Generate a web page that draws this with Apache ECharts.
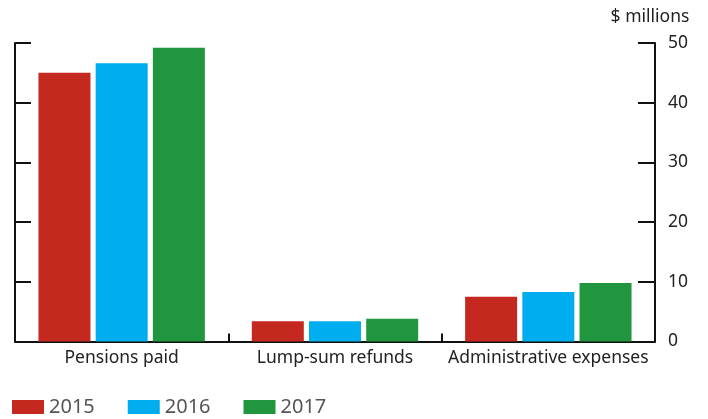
<!DOCTYPE html>
<html>
<head>
<meta charset="utf-8">
<script src="https://cdn.jsdelivr.net/npm/echarts@6/dist/echarts.min.js"></script>
<style>
  html, body { margin: 0; padding: 0; background: #fff; }
  #chart { width: 708px; height: 419px; }
</style>
</head>
<body>
<div id="chart"></div>
<script>
// Pension fund outflows by type, $ millions
const categories = ['Pensions paid', 'Lump-sum refunds', 'Administrative expenses'];
const years = ['2015', '2016', '2017'];
const values2015 = [45.0, 3.4, 7.5];
const values2016 = [46.6, 3.4, 8.3];
const values2017 = [49.2, 3.8, 9.8];
const yTicks = [0, 10, 20, 30, 40, 50];
const colors = ['#c4281f', '#00adee', '#21963e'];

const FONT = '"Noto Sans", "Open Sans", sans-serif';
const axisLine = { show: true, lineStyle: { color: '#111', width: 2 } };

const chart = echarts.init(document.getElementById('chart'), null, { renderer: 'canvas' });

const seriesData = [values2015, values2016, values2017];

chart.setOption({
  animation: false,
  color: colors,
  grid: { left: 15, right: 53, top: 43, bottom: 77.5, containLabel: false },
  legend: {
    left: 7,
    bottom: -3,
    itemWidth: 32,
    itemHeight: 14,
    itemGap: 33,
    icon: 'rect',
    textStyle: { fontFamily: FONT, fontSize: 20, color: '#555' },
    data: years
  },
  xAxis: {
    type: 'category',
    data: categories,
    axisLine: axisLine,
    axisTick: { show: true, inside: true, length: 8, lineStyle: { color: '#111', width: 2 } },
    axisLabel: { interval: 0, fontFamily: FONT, fontSize: 17.5, color: '#222', margin: 8 },
    splitLine: { show: false }
  },
  yAxis: [
    {
      type: 'value',
      position: 'left',
      min: yTicks[0],
      max: yTicks[yTicks.length - 1],
      interval: 10,
      axisLine: axisLine,
      axisTick: { show: true, inside: true, length: 16, lineStyle: { color: '#111', width: 2 } },
      axisLabel: { show: false },
      splitLine: { show: false }
    },
    {
      type: 'value',
      position: 'right',
      min: yTicks[0],
      max: yTicks[yTicks.length - 1],
      interval: 10,
      name: '$ millions',
      nameLocation: 'end',
      nameGap: 17,
      nameTextStyle: { fontFamily: FONT, fontSize: 17.5, color: '#222', align: 'center', padding: [0, 10, 0, 0] },
      axisLine: axisLine,
      axisTick: { show: true, inside: true, length: 17, lineStyle: { color: '#111', width: 2 } },
      axisLabel: { fontFamily: FONT, fontSize: 17.5, color: '#222', margin: 13 },
      splitLine: { show: false }
    }
  ],
  series: years.map((y, i) => ({
    name: y,
    type: 'bar',
    yAxisIndex: 1,
    data: seriesData[i],
    barWidth: 52,
    barGap: '10%',
    itemStyle: { color: colors[i] }
  }))
});
</script>
</body>
</html>
